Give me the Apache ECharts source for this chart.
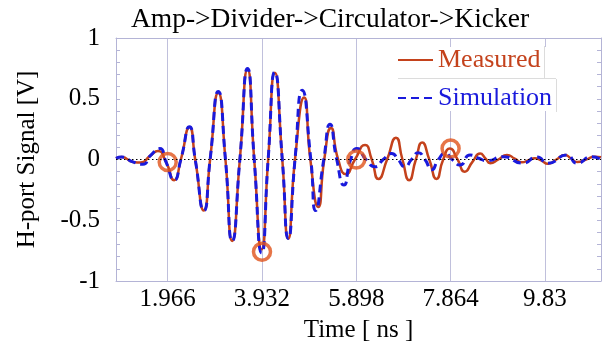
<!DOCTYPE html>
<html>
<head>
<meta charset="utf-8">
<script src="https://cdn.jsdelivr.net/npm/echarts@6/dist/echarts.min.js"></script>
<style>html,body{margin:0;padding:0;background:#fff}#c{width:606px;height:345px}</style>
</head>
<body>
<div id="c"></div>
<script>
// ---- data ----
var xTicks = [1.966, 3.932, 5.898, 7.864, 9.83];
var yTicks = [-1, -0.5, 0, 0.5, 1];

var measuredT = [0.888, 1.01, 1.24, 1.40, 1.60, 1.76, 1.93, 2.10, 2.24, 2.42, 2.54, 2.72, 2.85, 3.02, 3.17, 3.31, 3.47, 3.63, 3.77, 3.925, 4.06, 4.20, 4.355, 4.48, 4.62, 4.81, 4.94, 5.105, 5.23, 5.37, 5.52, 5.68, 5.87, 6.08, 6.22, 6.36, 6.54, 6.725, 6.86, 7.0, 7.14, 7.27, 7.42, 7.57, 7.71, 7.85, 8.01, 8.16, 8.32, 8.48, 8.59, 8.69, 8.86, 9.04, 9.2, 9.35, 9.49, 9.62, 9.76, 9.89, 10.07, 10.25, 10.37, 10.5, 10.69, 10.87, 11.0];
var measuredV = [0.01, 0.02, -0.02, -0.025, 0.03, 0.07, -0.02, -0.17, 0.0, 0.265, 0.0, -0.42, 0.0, 0.55, 0.0, -0.67, 0.0, 0.74, 0.0, -0.74, 0.0, 0.715, 0.0, -0.65, 0.0, 0.51, 0.0, -0.39, 0.0, 0.26, 0.0, -0.12, 0.0, 0.12, 0.0, -0.16, 0.0, 0.18, 0.0, -0.17, 0.0, 0.14, 0.0, -0.16, 0.0, 0.09, 0.0, -0.10, -0.02, 0.05, 0.01, -0.03, 0.0, 0.037, 0.007, -0.023, -0.005, 0.01, -0.01, -0.035, 0.0, 0.037, 0.01, -0.02, 0.0, 0.023, 0.018];

var simT = [0.888, 1.01, 1.24, 1.45, 1.60, 1.80, 1.93, 2.10, 2.24, 2.42, 2.54, 2.72, 2.85, 3.02, 3.17, 3.31, 3.47, 3.63, 3.77, 3.925, 4.06, 4.20, 4.355, 4.48, 4.62, 4.77, 4.95, 5.05, 5.22, 5.35, 5.49, 5.64, 5.78, 5.91, 6.10, 6.29, 6.46, 6.635, 6.77, 6.91, 7.05, 7.19, 7.33, 7.47, 7.61, 7.75, 7.90, 8.06, 8.27, 8.45, 8.62, 8.96, 9.37, 9.665, 9.89, 10.29, 10.50, 10.81, 11.0];
var simV = [0.01, 0.02, -0.02, -0.04, 0.03, 0.09, -0.02, -0.17, 0.0, 0.27, 0.0, -0.42, 0.0, 0.56, 0.0, -0.67, 0.0, 0.75, 0.0, -0.77, 0.0, 0.72, 0.0, -0.65, 0.0, 0.57, 0.0, -0.42, 0.0, 0.29, 0.0, -0.21, 0.0, 0.09, 0.0, -0.06, 0.0, 0.05, 0.0, -0.06, 0.0, 0.055, 0.0, -0.085, 0.0, 0.05, 0.0, -0.045, 0.037, 0.01, -0.01, 0.023, -0.03, 0.02, -0.03, 0.037, -0.03, 0.023, 0.0];

var markerT = [1.966, 3.932, 5.898, 7.864];
var markerV = [-0.02, -0.76, 0.0, 0.09];

function zip(a, b) { return a.map(function (v, i) { return [v, b[i]]; }); }

var FONT = '"Liberation Serif", "Times New Roman", serif';
var FRAME = '#b4b4d6';
var RED = '#c4421c';
var BLUE = '#1a1adc';
var SEP = '#dcdcdc';

var chart = echarts.init(document.getElementById('c'), null, {renderer: 'canvas'});
chart.setOption({
  animation: false,
  backgroundColor: '#fff',
  title: {
    text: 'Amp->Divider->Circulator->Kicker',
    left: 325, top: 1, textAlign: 'center',
    textStyle: {fontFamily: FONT, fontSize: 27.5, fontWeight: 'normal', color: '#000'}
  },
  legend: {
    orient: 'vertical',
    left: 397, top: 47,
    itemWidth: 35, itemHeight: 14, itemGap: 12,
    backgroundColor: '#fff',
    padding: [0, 4, 0, 0],
    itemStyle: {opacity: 0},
    data: [
      {name: 'Measured', textStyle: {color: RED}},
      {name: 'Simulation', textStyle: {color: BLUE}}
    ],
    textStyle: {fontFamily: FONT, fontSize: 26, padding: [0, 0, 0, 0]}
  },
  graphic: [
    {type: 'line', z: 100, shape: {x1: 398, y1: 78.5, x2: 556, y2: 78.5}, style: {stroke: SEP, lineWidth: 1}},
    {type: 'line', z: 100, shape: {x1: 544.5, y1: 46, x2: 544.5, y2: 78}, style: {stroke: SEP, lineWidth: 1}},
    {type: 'line', z: 100, shape: {x1: 556.5, y1: 79, x2: 556.5, y2: 112}, style: {stroke: SEP, lineWidth: 1}}
  ],
  grid: {left: 116, right: 5, top: 38, bottom: 64, containLabel: false, outerBoundsMode: 'none'},
  xAxis: [{
    type: 'value', min: 0.888, max: 11.0,
    name: 'Time [ ns ]', nameLocation: 'middle', nameGap: 37,
    nameTextStyle: {fontFamily: FONT, fontSize: 25, color: '#000'},
    axisLine: {show: true, onZero: false, lineStyle: {color: FRAME, width: 1}},
    axisTick: {show: false, customValues: xTicks},
    axisLabel: {customValues: xTicks, fontFamily: FONT, fontSize: 25, color: '#000', margin: 6,
      formatter: function (v) { return String(v); }},
    splitLine: {show: true, lineStyle: {color: '#c0c0dc', width: 1}}
  }, {
    type: 'value', min: 0.888, max: 11.0, position: 'top',
    axisLine: {show: true, onZero: false, lineStyle: {color: FRAME, width: 1}},
    axisTick: {show: false}, axisLabel: {show: false}, splitLine: {show: false}
  }],
  yAxis: [{
    type: 'value', min: -1, max: 1, interval: 0.5,
    name: 'H-port Signal [V]', nameLocation: 'middle', nameGap: 62,
    nameTextStyle: {fontFamily: FONT, fontSize: 25, color: '#000', padding: [0, 0, 14, 0]},
    axisLine: {show: true, onZero: false, lineStyle: {color: FRAME, width: 1}},
    axisTick: {show: true, inside: true, length: 4, lineStyle: {color: FRAME}},
    minorTick: {show: true, splitNumber: 5, length: 4, lineStyle: {color: FRAME}},
    axisLabel: {fontFamily: FONT, fontSize: 25, color: '#000', margin: 16,
      formatter: function (v) { return yTicks.indexOf(v) >= 0 ? String(v) : ''; }},
    splitLine: {show: false}
  }, {
    type: 'value', min: -1, max: 1, interval: 0.5, position: 'right',
    axisLine: {show: true, onZero: false, lineStyle: {color: FRAME, width: 1}},
    axisTick: {show: true, inside: true, length: 4, lineStyle: {color: FRAME}},
    minorTick: {show: true, splitNumber: 5, length: 4, lineStyle: {color: FRAME}},
    axisLabel: {show: false}, splitLine: {show: false}
  }],
  series: [{
    name: 'Measured', type: 'line', smooth: 0.6, symbol: 'none',
    data: zip(measuredT, measuredV),
    lineStyle: {color: RED, width: 2.5},
    itemStyle: {color: RED},
    z: 2,
    markLine: {
      silent: true, symbol: 'none', label: {show: false},
      lineStyle: {color: '#000', width: 1.2, type: [1.5, 2.5]},
      data: [{yAxis: 0}]
    }
  }, {
    name: 'Simulation', type: 'line', smooth: 0.6, symbol: 'none',
    data: zip(simT, simV),
    lineStyle: {color: BLUE, width: 3, type: [8, 5]},
    itemStyle: {color: BLUE},
    z: 3
  }, {
    name: 'markers', type: 'scatter', symbol: 'circle', symbolSize: 17,
    data: zip(markerT, markerV),
    itemStyle: {color: 'rgba(0,0,0,0)', borderColor: '#e0521a', borderWidth: 3.5},
    z: 4
  }]
});
</script>
</body>
</html>
